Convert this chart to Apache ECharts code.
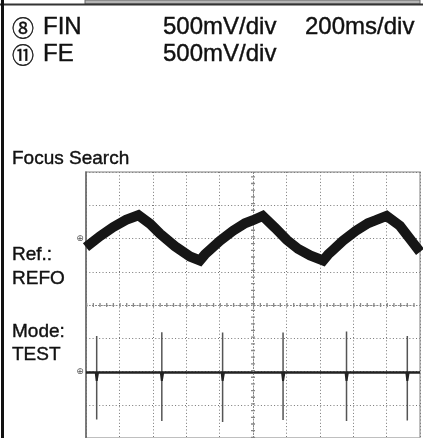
<!DOCTYPE html>
<html>
<head>
<meta charset="utf-8">
<script src="https://cdn.jsdelivr.net/npm/echarts@6/dist/echarts.min.js"></script>
<style>
  html, body { margin: 0; padding: 0; background: #fff; }
  #chart { width: 423px; height: 438px; }
</style>
</head>
<body>
<div id="chart"></div>
<script>
  // screen in divisions: 10 across, 8 high (center = 0)
  var finX = [0, 0.42, 0.81, 1.20, 1.57, 1.92, 2.22, 2.66, 3.11, 3.41, 3.56, 3.71, 4.01, 4.40, 4.76, 5.00, 5.29,
              5.66, 6.01, 6.35, 6.71, 7.10, 7.25, 7.40, 7.69, 8.08, 8.44, 8.68, 9.00, 9.40, 9.79, 10.0]
  var finY = [1.74, 2.07, 2.34, 2.56, 2.70, 2.44, 2.14, 1.77, 1.46, 1.34, 1.52, 1.66, 1.93, 2.23, 2.46, 2.55, 2.68,
              2.32, 1.96, 1.69, 1.49, 1.34, 1.52, 1.66, 1.93, 2.23, 2.46, 2.55, 2.68, 2.38, 1.87, 1.60]
  var feBase = -2.03
  var spikeX = [0.32, 2.27, 4.09, 5.90, 7.80, 9.62]
  var spikeTop = [-0.93, -0.82, -0.83, -0.83, -0.80, -0.93]
  var spikeBottom = [-3.44, -3.49, -3.52, -3.46, -3.49, -3.47]
  var refLevels = [2, -2]

  var chart = echarts.init(document.getElementById('chart'))
  var font = '"Liberation Sans", "DejaVu Sans", sans-serif'
  var cjk = '"Noto Sans CJK JP", "DejaVu Sans", sans-serif'

  var finData = finX.map(function(x, i) { return [x, finY[i]] })

  var spikeSeries = spikeX.map(function(x, i) {
    return {
      type: 'line',
      data: [[x, spikeTop[i]], [x, spikeBottom[i]]],
      symbol: 'none',
      silent: true,
      lineStyle: { color: '#555', width: 1.5 },
      z: 3
    }
  })
  var dipSeries = spikeX.map(function(x) {
    return {
      type: 'line',
      data: [[x - 0.03, feBase], [x, feBase - 0.25], [x + 0.04, feBase]],
      symbol: 'none',
      silent: true,
      lineStyle: { color: '#222', width: 2 },
      z: 4
    }
  })

  var option = {
    animation: false,
    grid: {
      left: 86, top: 172, width: 334, height: 267.2,
      show: true, borderColor: '#aaa', borderWidth: 1.5
    },
    xAxis: {
      type: 'value', min: 0, max: 10, interval: 1,
      axisLine: { show: false }, axisTick: { show: false }, axisLabel: { show: false },
      splitLine: { show: true, lineStyle: { color: '#777', width: 1, type: [1, 2.3] } }
    },
    yAxis: {
      type: 'value', min: -4, max: 4, interval: 1,
      axisLine: { show: true, onZero: false, lineStyle: { color: '#666', width: 1.5 } },
      axisTick: { show: false }, axisLabel: { show: false },
      splitLine: { show: true, lineStyle: { color: '#777', width: 1, type: [1, 2.3] } }
    },
    series: [{
      type: 'line',
      data: [],
      silent: true,
      markLine: {
        silent: true, symbol: 'none', label: { show: false },
        lineStyle: { color: '#888', width: 1, type: [1.5, 1.5] },
        data: [{ yAxis: 0 }, { xAxis: 5 }]
      }
    }, {
      type: 'line',
      data: [],
      silent: true,
      markLine: {
        silent: true, symbol: 'none', label: { show: false },
        lineStyle: { color: '#888', width: 4, type: [1.3, 5.38] },
        data: [{ yAxis: 0 }, { xAxis: 5 }]
      }
    }, {
      type: 'line',
      data: [[0, feBase], [10, feBase]],
      symbol: 'none',
      silent: true,
      lineStyle: { color: '#222', width: 2.5 },
      z: 4
    }, {
      type: 'line',
      data: finData,
      symbol: 'none',
      silent: true,
      lineStyle: { color: '#161616', width: 10, join: 'miter', cap: 'butt' },
      z: 5
    }].concat(spikeSeries, dipSeries)
  }
  chart.setOption(option)

  var texts = [
    { t: '⑧', x: 12, y: 27.6, s: 22, f: cjk },
    { t: 'FIN', x: 43, y: 27.6, s: 24 },
    { t: '500mV/div', x: 163, y: 27.6, s: 24 },
    { t: '200ms/div', x: 305, y: 27.6, s: 24 },
    { t: '⑪', x: 12, y: 54.6, s: 22, f: cjk },
    { t: 'FE', x: 43, y: 54.6, s: 24 },
    { t: '500mV/div', x: 163, y: 54.6, s: 24 },
    { t: 'Focus Search', x: 12, y: 158.4, s: 19 },
    { t: 'Ref.:', x: 12, y: 255, s: 19 },
    { t: 'REFO', x: 12, y: 278.4, s: 19 },
    { t: 'Mode:', x: 12, y: 331.5, s: 19 },
    { t: 'TEST', x: 12, y: 354.5, s: 19 }
  ]
  var graphics = [
    { type: 'rect', shape: { x: 85, y: 0, width: 335, height: 4 }, style: { fill: '#b4b4b4', stroke: '#666', lineWidth: 1 } },
    { type: 'rect', shape: { x: 0, y: 3.5, width: 423, height: 2 }, style: { fill: '#333' } },
    { type: 'rect', shape: { x: 1, y: 0, width: 3, height: 438 }, style: { fill: '#111' } }
  ]
  texts.forEach(function(d) {
    graphics.push({
      type: 'text', x: d.x, y: d.y,
      style: {
        text: d.t, fill: '#111', font: d.s + 'px ' + (d.f || font), verticalAlign: 'middle',
        stroke: '#111', lineWidth: 0.4
      }
    })
  })
  refLevels.forEach(function(v) {
    var p = chart.convertToPixel({ gridIndex: 0 }, [0, v])
    graphics.push({
      type: 'text', x: p[0] - 6, y: p[1],
      style: { text: '⊕', fill: '#555', font: '9px "DejaVu Sans"', align: 'center', verticalAlign: 'middle' }
    })
  })
  chart.setOption({ graphic: graphics })
</script>
</body>
</html>
